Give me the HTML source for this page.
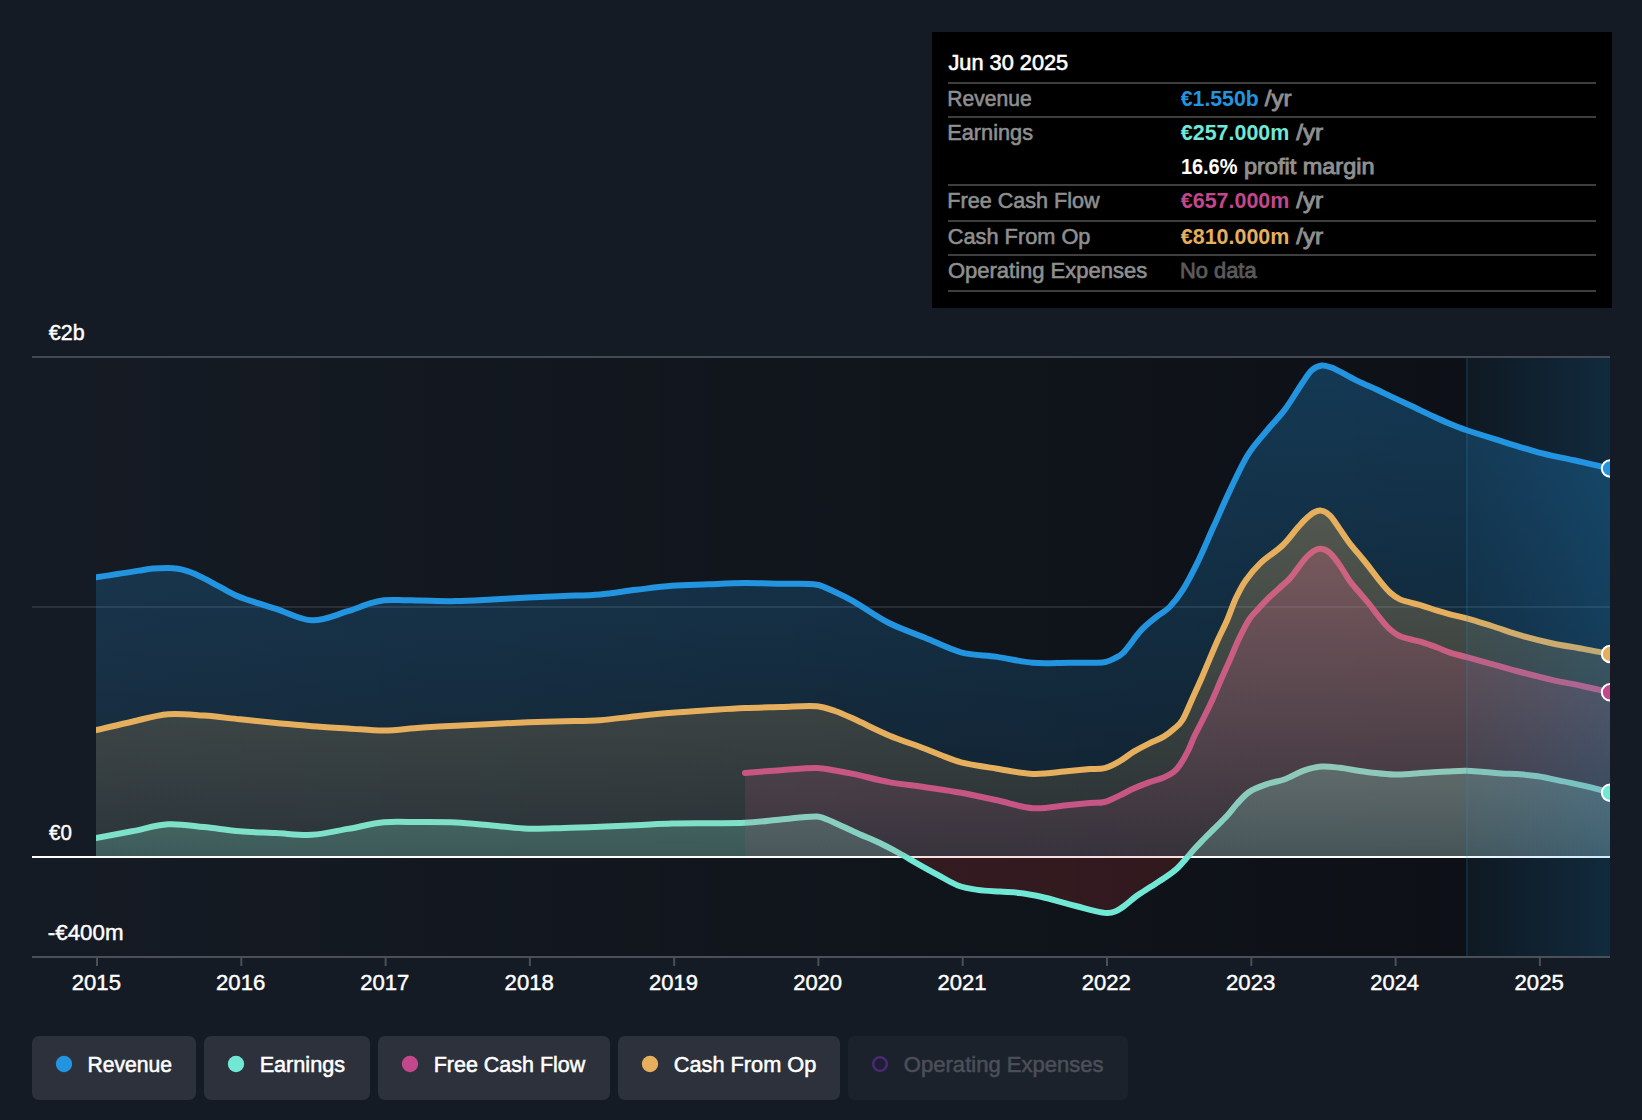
<!DOCTYPE html>
<html lang="en">
<head>
<meta charset="utf-8">
<title>Earnings and Revenue History</title>
<style>
html,body{margin:0;padding:0;background:#151b24;}
body{width:1642px;height:1120px;overflow:hidden;}
svg{display:block;}
text{font-family:"Liberation Sans", Arial, Helvetica, sans-serif;}
</style>
</head>
<body>
<svg width="1642" height="1120" viewBox="0 0 1642 1120">
<defs>
<linearGradient id="gDark" x1="0" y1="0" x2="1" y2="0"><stop offset="0" stop-color="#000" stop-opacity="0"/><stop offset="1" stop-color="#000" stop-opacity="0.42"/></linearGradient>
<linearGradient id="gHi" x1="0" y1="0" x2="1" y2="0"><stop offset="0" stop-color="#2394df" stop-opacity="0.06"/><stop offset="1" stop-color="#2394df" stop-opacity="0.20"/></linearGradient>
<linearGradient id="gRev" x1="0" y1="0" x2="0" y2="1"><stop offset="0" stop-color="#2394df" stop-opacity="0.30"/><stop offset="1" stop-color="#2394df" stop-opacity="0.10"/></linearGradient>
<linearGradient id="gCfo" x1="0" y1="0" x2="0" y2="1"><stop offset="0" stop-color="#e6af5d" stop-opacity="0.30"/><stop offset="1" stop-color="#e6af5d" stop-opacity="0.10"/></linearGradient>
<linearGradient id="gFcf" x1="0" y1="0" x2="0" y2="1"><stop offset="0" stop-color="#c2478b" stop-opacity="0.32"/><stop offset="1" stop-color="#c2478b" stop-opacity="0.10"/></linearGradient>
<linearGradient id="gEar" x1="0" y1="0" x2="0" y2="1"><stop offset="0" stop-color="#71e7d6" stop-opacity="0.32"/><stop offset="1" stop-color="#71e7d6" stop-opacity="0.16"/></linearGradient>
<clipPath id="cPlot"><rect x="96" y="340" width="1514" height="620"/></clipPath>
<clipPath id="cPos"><rect x="32" y="340" width="1578" height="516"/></clipPath>
<clipPath id="cNeg"><rect x="32" y="856" width="1578" height="100"/></clipPath>
</defs>
<rect x="0" y="0" width="1642" height="1120" fill="#151b24"/>
<rect x="32" y="358" width="1578" height="598" fill="url(#gDark)"/>
<rect x="32" y="356" width="1578" height="2" fill="#444a53"/>
<rect x="32" y="606" width="1578" height="2" fill="#ffffff" fill-opacity="0.1"/>
<rect x="32" y="856" width="1578" height="2" fill="#ffffff"/>
<g clip-path="url(#cPlot)" fill="none" stroke-linejoin="round" stroke-linecap="round">
<path d="M96.0 856.0 L96.0 577.4C103.7 576.2 111.3 575.0 119.0 573.8C125.7 572.7 132.3 571.6 139.0 570.6C143.7 569.9 148.3 569.0 153.0 568.6C158.0 568.1 163.0 567.9 168.0 567.9C171.3 567.9 174.7 568.2 178.0 568.7C181.2 569.2 184.3 570.1 187.5 571.1C190.7 572.1 193.8 573.6 197.0 575.0C200.3 576.5 203.7 578.2 207.0 579.9C210.3 581.6 213.7 583.5 217.0 585.3C220.2 587.0 223.3 588.9 226.5 590.6C229.7 592.3 232.8 594.1 236.0 595.5C240.7 597.5 245.3 599.1 250.0 600.7C258.7 603.6 267.3 606.1 276.0 608.8C288.0 612.6 300.0 619.9 312.0 620.3C324.0 620.7 336.0 614.7 348.0 611.2C355.3 609.1 362.7 605.6 370.0 603.4C374.7 602.0 379.3 600.9 384.0 600.3C388.7 599.7 393.3 599.9 398.0 599.9C405.3 600.0 412.7 600.4 420.0 600.6C432.0 600.8 444.0 601.3 456.0 601.1C468.0 600.9 480.0 600.1 492.0 599.5C504.0 598.9 516.0 598.1 528.0 597.5C540.0 596.9 552.0 596.5 564.0 596.0C576.0 595.5 588.0 595.4 600.0 594.4C612.0 593.4 624.0 591.2 636.0 589.8C648.0 588.4 660.0 586.7 672.0 585.8C684.0 584.9 696.0 584.8 708.0 584.3C720.3 583.8 732.7 583.1 745.0 583.0C757.0 582.9 769.0 583.5 781.0 583.8C793.0 584.1 805.0 582.9 817.0 584.7C823.0 585.6 829.0 589.3 835.0 592.0C841.0 594.7 847.0 597.7 853.0 601.1C865.0 608.0 877.0 616.9 889.0 623.0C901.0 629.1 913.0 632.8 925.0 637.7C937.0 642.6 949.0 649.1 961.0 652.3C973.0 655.5 985.0 655.1 997.0 656.9C1009.0 658.6 1021.0 661.8 1033.0 662.8C1045.0 663.8 1057.0 662.8 1069.0 662.8C1078.0 662.8 1087.0 662.9 1096.0 662.7C1099.3 662.6 1102.7 662.6 1106.0 661.8C1108.7 661.2 1111.3 660.0 1114.0 658.6C1117.0 657.0 1120.0 656.1 1123.0 653.0C1129.0 646.7 1135.0 636.9 1141.0 630.4C1146.3 624.7 1151.7 620.8 1157.0 616.4C1161.2 613.0 1165.4 611.3 1169.6 607.0C1174.1 602.4 1178.5 596.7 1183.0 589.6C1187.8 582.0 1192.5 572.7 1197.3 562.9C1202.7 551.9 1208.0 539.0 1213.4 527.1C1218.8 515.2 1224.1 502.7 1229.5 491.4C1235.4 478.9 1241.4 465.4 1247.3 455.7C1253.9 445.0 1260.4 438.5 1267.0 430.4C1273.0 423.0 1279.0 417.5 1285.0 409.4C1291.0 401.3 1297.0 390.7 1303.0 382.0C1306.0 377.6 1309.0 372.8 1312.0 370.1C1315.2 367.3 1318.4 366.0 1321.6 365.5C1324.7 365.1 1327.9 366.4 1331.0 367.4C1334.0 368.4 1337.0 370.1 1340.0 371.6C1346.0 374.6 1352.0 378.2 1358.0 381.1C1364.0 384.1 1370.0 386.5 1376.0 389.3C1382.0 392.1 1388.0 395.1 1394.0 397.9C1400.0 400.7 1406.0 403.5 1412.0 406.3C1418.0 409.1 1424.0 412.1 1430.0 414.9C1436.0 417.7 1442.0 420.6 1448.0 423.1C1454.0 425.6 1460.0 428.0 1466.0 430.0C1478.0 434.0 1490.0 437.6 1502.0 441.3C1514.0 445.0 1526.0 449.1 1538.0 452.3C1550.0 455.5 1562.0 457.6 1574.0 460.3C1586.0 463.0 1598.0 465.8 1610.0 468.5L1610.0 856.0 Z" fill="url(#gRev)"/>
<path d="M96.0 577.4C103.7 576.2 111.3 575.0 119.0 573.8C125.7 572.7 132.3 571.6 139.0 570.6C143.7 569.9 148.3 569.0 153.0 568.6C158.0 568.1 163.0 567.9 168.0 567.9C171.3 567.9 174.7 568.2 178.0 568.7C181.2 569.2 184.3 570.1 187.5 571.1C190.7 572.1 193.8 573.6 197.0 575.0C200.3 576.5 203.7 578.2 207.0 579.9C210.3 581.6 213.7 583.5 217.0 585.3C220.2 587.0 223.3 588.9 226.5 590.6C229.7 592.3 232.8 594.1 236.0 595.5C240.7 597.5 245.3 599.1 250.0 600.7C258.7 603.6 267.3 606.1 276.0 608.8C288.0 612.6 300.0 619.9 312.0 620.3C324.0 620.7 336.0 614.7 348.0 611.2C355.3 609.1 362.7 605.6 370.0 603.4C374.7 602.0 379.3 600.9 384.0 600.3C388.7 599.7 393.3 599.9 398.0 599.9C405.3 600.0 412.7 600.4 420.0 600.6C432.0 600.8 444.0 601.3 456.0 601.1C468.0 600.9 480.0 600.1 492.0 599.5C504.0 598.9 516.0 598.1 528.0 597.5C540.0 596.9 552.0 596.5 564.0 596.0C576.0 595.5 588.0 595.4 600.0 594.4C612.0 593.4 624.0 591.2 636.0 589.8C648.0 588.4 660.0 586.7 672.0 585.8C684.0 584.9 696.0 584.8 708.0 584.3C720.3 583.8 732.7 583.1 745.0 583.0C757.0 582.9 769.0 583.5 781.0 583.8C793.0 584.1 805.0 582.9 817.0 584.7C823.0 585.6 829.0 589.3 835.0 592.0C841.0 594.7 847.0 597.7 853.0 601.1C865.0 608.0 877.0 616.9 889.0 623.0C901.0 629.1 913.0 632.8 925.0 637.7C937.0 642.6 949.0 649.1 961.0 652.3C973.0 655.5 985.0 655.1 997.0 656.9C1009.0 658.6 1021.0 661.8 1033.0 662.8C1045.0 663.8 1057.0 662.8 1069.0 662.8C1078.0 662.8 1087.0 662.9 1096.0 662.7C1099.3 662.6 1102.7 662.6 1106.0 661.8C1108.7 661.2 1111.3 660.0 1114.0 658.6C1117.0 657.0 1120.0 656.1 1123.0 653.0C1129.0 646.7 1135.0 636.9 1141.0 630.4C1146.3 624.7 1151.7 620.8 1157.0 616.4C1161.2 613.0 1165.4 611.3 1169.6 607.0C1174.1 602.4 1178.5 596.7 1183.0 589.6C1187.8 582.0 1192.5 572.7 1197.3 562.9C1202.7 551.9 1208.0 539.0 1213.4 527.1C1218.8 515.2 1224.1 502.7 1229.5 491.4C1235.4 478.9 1241.4 465.4 1247.3 455.7C1253.9 445.0 1260.4 438.5 1267.0 430.4C1273.0 423.0 1279.0 417.5 1285.0 409.4C1291.0 401.3 1297.0 390.7 1303.0 382.0C1306.0 377.6 1309.0 372.8 1312.0 370.1C1315.2 367.3 1318.4 366.0 1321.6 365.5C1324.7 365.1 1327.9 366.4 1331.0 367.4C1334.0 368.4 1337.0 370.1 1340.0 371.6C1346.0 374.6 1352.0 378.2 1358.0 381.1C1364.0 384.1 1370.0 386.5 1376.0 389.3C1382.0 392.1 1388.0 395.1 1394.0 397.9C1400.0 400.7 1406.0 403.5 1412.0 406.3C1418.0 409.1 1424.0 412.1 1430.0 414.9C1436.0 417.7 1442.0 420.6 1448.0 423.1C1454.0 425.6 1460.0 428.0 1466.0 430.0C1478.0 434.0 1490.0 437.6 1502.0 441.3C1514.0 445.0 1526.0 449.1 1538.0 452.3C1550.0 455.5 1562.0 457.6 1574.0 460.3C1586.0 463.0 1598.0 465.8 1610.0 468.5" stroke="#2394df" stroke-width="6"/>
<g clip-path="url(#cPos)"><path d="M96.0 856.0 L96.0 838.0C108.0 835.8 120.0 833.6 132.0 831.3C144.0 829.0 156.0 825.0 168.0 824.3C180.0 823.6 192.0 825.9 204.0 827.1C216.0 828.3 228.0 830.3 240.0 831.3C252.0 832.3 264.0 832.5 276.0 833.1C288.0 833.7 300.0 835.5 312.0 834.8C324.0 834.1 336.0 831.0 348.0 828.9C360.0 826.8 372.0 823.3 384.0 822.2C396.0 821.1 408.0 822.1 420.0 822.1C432.0 822.1 444.0 822.0 456.0 822.5C468.0 823.0 480.0 824.4 492.0 825.4C504.0 826.4 516.0 828.3 528.0 828.7C540.0 829.1 552.0 828.3 564.0 828.0C576.0 827.7 588.0 827.2 600.0 826.7C612.0 826.2 624.0 825.7 636.0 825.2C648.0 824.7 660.0 823.8 672.0 823.5C684.0 823.2 696.0 823.3 708.0 823.2C720.3 823.1 732.7 823.4 745.0 822.8C757.0 822.2 769.0 820.6 781.0 819.5C793.0 818.4 805.0 816.2 817.0 816.4C821.0 816.5 825.0 818.8 829.0 820.3C832.7 821.7 836.3 823.5 840.0 825.2C846.5 828.2 853.1 831.3 859.6 834.2C866.2 837.1 872.7 839.6 879.3 842.7C885.8 845.8 892.4 849.4 898.9 853.0C905.5 856.6 912.0 860.6 918.6 864.3C925.1 868.0 931.7 871.6 938.2 875.1C944.8 878.6 951.3 883.0 957.9 885.5C964.4 888.0 971.0 889.0 977.5 889.9C985.0 891.0 992.5 891.1 1000.0 891.6C1006.3 892.1 1012.7 892.2 1019.0 892.9C1023.9 893.4 1028.9 894.3 1033.8 895.2C1038.7 896.1 1043.6 897.3 1048.5 898.5C1053.4 899.7 1058.2 901.3 1063.1 902.6C1068.0 903.9 1072.8 905.2 1077.7 906.5C1082.6 907.8 1087.4 909.3 1092.3 910.4C1097.2 911.5 1102.0 912.9 1106.9 913.1C1109.8 913.2 1112.8 912.5 1115.7 911.3C1118.6 910.1 1121.6 907.9 1124.5 905.8C1128.4 902.9 1132.3 899.1 1136.2 896.3C1141.1 892.8 1145.9 890.0 1150.8 886.8C1155.7 883.6 1160.5 880.7 1165.4 877.3C1169.3 874.6 1173.2 872.0 1177.1 868.5C1180.0 865.9 1182.9 862.3 1185.8 859.0C1188.7 855.7 1191.7 852.0 1194.6 848.8C1197.5 845.5 1200.5 842.5 1203.4 839.5C1207.2 835.6 1211.0 832.0 1214.8 828.2C1219.0 823.9 1223.3 819.9 1227.5 815.3C1230.8 811.7 1234.0 807.0 1237.3 803.5C1241.2 799.3 1245.1 794.6 1249.0 792.1C1255.0 788.2 1261.0 786.2 1267.0 784.1C1273.0 782.0 1279.0 781.4 1285.0 779.2C1291.0 777.0 1297.0 773.0 1303.0 770.9C1309.2 768.7 1315.4 767.0 1321.6 766.5C1327.7 766.0 1333.9 767.1 1340.0 767.8C1346.0 768.5 1352.0 769.8 1358.0 770.7C1364.0 771.6 1370.0 772.5 1376.0 773.1C1382.0 773.8 1388.0 774.5 1394.0 774.6C1400.0 774.7 1406.0 774.2 1412.0 773.8C1418.0 773.4 1424.0 772.8 1430.0 772.4C1436.0 772.0 1442.0 771.7 1448.0 771.4C1454.0 771.1 1460.0 770.6 1466.0 770.7C1472.0 770.8 1478.0 771.5 1484.0 771.9C1490.0 772.3 1496.0 773.0 1502.0 773.4C1508.0 773.8 1514.0 773.8 1520.0 774.3C1526.0 774.8 1532.0 775.4 1538.0 776.3C1544.0 777.2 1550.0 778.7 1556.0 779.9C1562.0 781.1 1568.0 782.3 1574.0 783.6C1580.0 784.9 1586.0 786.2 1592.0 787.7C1598.0 789.2 1604.0 791.0 1610.0 792.7L1610.0 856.0 Z" fill="url(#gEar)"/></g>
<g clip-path="url(#cNeg)"><path d="M96.0 856.0 L96.0 838.0C108.0 835.8 120.0 833.6 132.0 831.3C144.0 829.0 156.0 825.0 168.0 824.3C180.0 823.6 192.0 825.9 204.0 827.1C216.0 828.3 228.0 830.3 240.0 831.3C252.0 832.3 264.0 832.5 276.0 833.1C288.0 833.7 300.0 835.5 312.0 834.8C324.0 834.1 336.0 831.0 348.0 828.9C360.0 826.8 372.0 823.3 384.0 822.2C396.0 821.1 408.0 822.1 420.0 822.1C432.0 822.1 444.0 822.0 456.0 822.5C468.0 823.0 480.0 824.4 492.0 825.4C504.0 826.4 516.0 828.3 528.0 828.7C540.0 829.1 552.0 828.3 564.0 828.0C576.0 827.7 588.0 827.2 600.0 826.7C612.0 826.2 624.0 825.7 636.0 825.2C648.0 824.7 660.0 823.8 672.0 823.5C684.0 823.2 696.0 823.3 708.0 823.2C720.3 823.1 732.7 823.4 745.0 822.8C757.0 822.2 769.0 820.6 781.0 819.5C793.0 818.4 805.0 816.2 817.0 816.4C821.0 816.5 825.0 818.8 829.0 820.3C832.7 821.7 836.3 823.5 840.0 825.2C846.5 828.2 853.1 831.3 859.6 834.2C866.2 837.1 872.7 839.6 879.3 842.7C885.8 845.8 892.4 849.4 898.9 853.0C905.5 856.6 912.0 860.6 918.6 864.3C925.1 868.0 931.7 871.6 938.2 875.1C944.8 878.6 951.3 883.0 957.9 885.5C964.4 888.0 971.0 889.0 977.5 889.9C985.0 891.0 992.5 891.1 1000.0 891.6C1006.3 892.1 1012.7 892.2 1019.0 892.9C1023.9 893.4 1028.9 894.3 1033.8 895.2C1038.7 896.1 1043.6 897.3 1048.5 898.5C1053.4 899.7 1058.2 901.3 1063.1 902.6C1068.0 903.9 1072.8 905.2 1077.7 906.5C1082.6 907.8 1087.4 909.3 1092.3 910.4C1097.2 911.5 1102.0 912.9 1106.9 913.1C1109.8 913.2 1112.8 912.5 1115.7 911.3C1118.6 910.1 1121.6 907.9 1124.5 905.8C1128.4 902.9 1132.3 899.1 1136.2 896.3C1141.1 892.8 1145.9 890.0 1150.8 886.8C1155.7 883.6 1160.5 880.7 1165.4 877.3C1169.3 874.6 1173.2 872.0 1177.1 868.5C1180.0 865.9 1182.9 862.3 1185.8 859.0C1188.7 855.7 1191.7 852.0 1194.6 848.8C1197.5 845.5 1200.5 842.5 1203.4 839.5C1207.2 835.6 1211.0 832.0 1214.8 828.2C1219.0 823.9 1223.3 819.9 1227.5 815.3C1230.8 811.7 1234.0 807.0 1237.3 803.5C1241.2 799.3 1245.1 794.6 1249.0 792.1C1255.0 788.2 1261.0 786.2 1267.0 784.1C1273.0 782.0 1279.0 781.4 1285.0 779.2C1291.0 777.0 1297.0 773.0 1303.0 770.9C1309.2 768.7 1315.4 767.0 1321.6 766.5C1327.7 766.0 1333.9 767.1 1340.0 767.8C1346.0 768.5 1352.0 769.8 1358.0 770.7C1364.0 771.6 1370.0 772.5 1376.0 773.1C1382.0 773.8 1388.0 774.5 1394.0 774.6C1400.0 774.7 1406.0 774.2 1412.0 773.8C1418.0 773.4 1424.0 772.8 1430.0 772.4C1436.0 772.0 1442.0 771.7 1448.0 771.4C1454.0 771.1 1460.0 770.6 1466.0 770.7C1472.0 770.8 1478.0 771.5 1484.0 771.9C1490.0 772.3 1496.0 773.0 1502.0 773.4C1508.0 773.8 1514.0 773.8 1520.0 774.3C1526.0 774.8 1532.0 775.4 1538.0 776.3C1544.0 777.2 1550.0 778.7 1556.0 779.9C1562.0 781.1 1568.0 782.3 1574.0 783.6C1580.0 784.9 1586.0 786.2 1592.0 787.7C1598.0 789.2 1604.0 791.0 1610.0 792.7L1610.0 856.0 Z" fill="#e63c3c" fill-opacity="0.165"/></g>
<path d="M96.0 838.0C108.0 835.8 120.0 833.6 132.0 831.3C144.0 829.0 156.0 825.0 168.0 824.3C180.0 823.6 192.0 825.9 204.0 827.1C216.0 828.3 228.0 830.3 240.0 831.3C252.0 832.3 264.0 832.5 276.0 833.1C288.0 833.7 300.0 835.5 312.0 834.8C324.0 834.1 336.0 831.0 348.0 828.9C360.0 826.8 372.0 823.3 384.0 822.2C396.0 821.1 408.0 822.1 420.0 822.1C432.0 822.1 444.0 822.0 456.0 822.5C468.0 823.0 480.0 824.4 492.0 825.4C504.0 826.4 516.0 828.3 528.0 828.7C540.0 829.1 552.0 828.3 564.0 828.0C576.0 827.7 588.0 827.2 600.0 826.7C612.0 826.2 624.0 825.7 636.0 825.2C648.0 824.7 660.0 823.8 672.0 823.5C684.0 823.2 696.0 823.3 708.0 823.2C720.3 823.1 732.7 823.4 745.0 822.8C757.0 822.2 769.0 820.6 781.0 819.5C793.0 818.4 805.0 816.2 817.0 816.4C821.0 816.5 825.0 818.8 829.0 820.3C832.7 821.7 836.3 823.5 840.0 825.2C846.5 828.2 853.1 831.3 859.6 834.2C866.2 837.1 872.7 839.6 879.3 842.7C885.8 845.8 892.4 849.4 898.9 853.0C905.5 856.6 912.0 860.6 918.6 864.3C925.1 868.0 931.7 871.6 938.2 875.1C944.8 878.6 951.3 883.0 957.9 885.5C964.4 888.0 971.0 889.0 977.5 889.9C985.0 891.0 992.5 891.1 1000.0 891.6C1006.3 892.1 1012.7 892.2 1019.0 892.9C1023.9 893.4 1028.9 894.3 1033.8 895.2C1038.7 896.1 1043.6 897.3 1048.5 898.5C1053.4 899.7 1058.2 901.3 1063.1 902.6C1068.0 903.9 1072.8 905.2 1077.7 906.5C1082.6 907.8 1087.4 909.3 1092.3 910.4C1097.2 911.5 1102.0 912.9 1106.9 913.1C1109.8 913.2 1112.8 912.5 1115.7 911.3C1118.6 910.1 1121.6 907.9 1124.5 905.8C1128.4 902.9 1132.3 899.1 1136.2 896.3C1141.1 892.8 1145.9 890.0 1150.8 886.8C1155.7 883.6 1160.5 880.7 1165.4 877.3C1169.3 874.6 1173.2 872.0 1177.1 868.5C1180.0 865.9 1182.9 862.3 1185.8 859.0C1188.7 855.7 1191.7 852.0 1194.6 848.8C1197.5 845.5 1200.5 842.5 1203.4 839.5C1207.2 835.6 1211.0 832.0 1214.8 828.2C1219.0 823.9 1223.3 819.9 1227.5 815.3C1230.8 811.7 1234.0 807.0 1237.3 803.5C1241.2 799.3 1245.1 794.6 1249.0 792.1C1255.0 788.2 1261.0 786.2 1267.0 784.1C1273.0 782.0 1279.0 781.4 1285.0 779.2C1291.0 777.0 1297.0 773.0 1303.0 770.9C1309.2 768.7 1315.4 767.0 1321.6 766.5C1327.7 766.0 1333.9 767.1 1340.0 767.8C1346.0 768.5 1352.0 769.8 1358.0 770.7C1364.0 771.6 1370.0 772.5 1376.0 773.1C1382.0 773.8 1388.0 774.5 1394.0 774.6C1400.0 774.7 1406.0 774.2 1412.0 773.8C1418.0 773.4 1424.0 772.8 1430.0 772.4C1436.0 772.0 1442.0 771.7 1448.0 771.4C1454.0 771.1 1460.0 770.6 1466.0 770.7C1472.0 770.8 1478.0 771.5 1484.0 771.9C1490.0 772.3 1496.0 773.0 1502.0 773.4C1508.0 773.8 1514.0 773.8 1520.0 774.3C1526.0 774.8 1532.0 775.4 1538.0 776.3C1544.0 777.2 1550.0 778.7 1556.0 779.9C1562.0 781.1 1568.0 782.3 1574.0 783.6C1580.0 784.9 1586.0 786.2 1592.0 787.7C1598.0 789.2 1604.0 791.0 1610.0 792.7" stroke="#71e7d6" stroke-width="6"/>
<path d="M745.0 856.0 L745.0 772.9C757.0 772.0 769.0 771.0 781.0 770.2C793.0 769.4 805.0 767.9 817.0 768.0C823.0 768.0 829.0 769.5 835.0 770.5C841.0 771.5 847.0 772.6 853.0 773.9C865.0 776.5 877.0 779.9 889.0 782.1C901.0 784.3 913.0 785.4 925.0 787.2C937.0 789.0 949.0 790.6 961.0 792.8C973.0 795.0 985.0 797.7 997.0 800.3C1009.0 802.9 1021.0 807.4 1033.0 808.2C1045.0 809.0 1057.0 806.0 1069.0 804.9C1076.0 804.3 1083.0 803.6 1090.0 803.0C1094.9 802.6 1099.8 803.2 1104.7 802.0C1109.6 800.8 1114.6 797.9 1119.5 795.6C1124.4 793.3 1129.3 790.5 1134.2 788.3C1139.1 786.1 1144.0 784.2 1148.9 782.4C1153.8 780.6 1158.8 779.6 1163.7 777.5C1167.0 776.1 1170.2 774.7 1173.5 772.1C1175.8 770.3 1178.1 767.6 1180.4 764.2C1183.0 760.4 1185.6 755.7 1188.2 750.5C1190.2 746.6 1192.1 740.9 1194.1 736.7C1196.9 730.7 1199.8 725.7 1202.6 720.0C1206.1 713.0 1209.5 706.0 1213.0 698.4C1215.8 692.3 1218.6 685.2 1221.4 678.8C1224.3 672.1 1227.3 665.8 1230.2 659.1C1233.0 652.7 1235.8 645.4 1238.6 639.5C1242.0 632.3 1245.5 625.2 1248.9 619.8C1251.7 615.4 1254.4 613.1 1257.2 610.0C1260.8 606.0 1264.3 602.1 1267.9 598.6C1271.9 594.6 1276.0 591.2 1280.0 587.5C1283.3 584.4 1286.7 582.1 1290.0 578.3C1294.9 572.7 1299.8 564.8 1304.7 559.1C1307.7 555.7 1310.6 552.9 1313.6 551.0C1316.1 549.4 1318.7 548.4 1321.2 548.8C1324.2 549.1 1327.1 550.5 1330.0 553.1C1333.3 556.1 1336.7 560.9 1340.0 565.6C1343.3 570.3 1346.7 576.7 1350.0 581.2C1353.3 585.8 1356.7 589.1 1360.0 593.1C1363.3 597.1 1366.7 600.8 1370.0 605.0C1373.3 609.2 1376.7 614.0 1380.0 618.1C1383.3 622.2 1386.7 626.4 1390.0 629.4C1393.3 632.4 1396.7 634.6 1400.0 636.2C1403.0 637.8 1406.0 638.2 1409.0 639.0C1413.5 640.2 1418.1 640.9 1422.6 642.3C1427.5 643.8 1432.4 645.7 1437.3 647.5C1441.5 649.1 1445.8 651.2 1450.0 652.6C1455.6 654.4 1461.1 655.7 1466.7 657.2C1475.1 659.5 1483.4 661.8 1491.8 664.1C1502.0 666.9 1512.1 669.8 1522.3 672.5C1532.4 675.2 1542.6 677.8 1552.7 680.1C1562.9 682.4 1573.0 684.0 1583.2 686.2C1592.1 688.1 1601.1 690.3 1610.0 692.3L1610.0 856.0 Z" fill="url(#gFcf)"/>
<path d="M745.0 772.9C757.0 772.0 769.0 771.0 781.0 770.2C793.0 769.4 805.0 767.9 817.0 768.0C823.0 768.0 829.0 769.5 835.0 770.5C841.0 771.5 847.0 772.6 853.0 773.9C865.0 776.5 877.0 779.9 889.0 782.1C901.0 784.3 913.0 785.4 925.0 787.2C937.0 789.0 949.0 790.6 961.0 792.8C973.0 795.0 985.0 797.7 997.0 800.3C1009.0 802.9 1021.0 807.4 1033.0 808.2C1045.0 809.0 1057.0 806.0 1069.0 804.9C1076.0 804.3 1083.0 803.6 1090.0 803.0C1094.9 802.6 1099.8 803.2 1104.7 802.0C1109.6 800.8 1114.6 797.9 1119.5 795.6C1124.4 793.3 1129.3 790.5 1134.2 788.3C1139.1 786.1 1144.0 784.2 1148.9 782.4C1153.8 780.6 1158.8 779.6 1163.7 777.5C1167.0 776.1 1170.2 774.7 1173.5 772.1C1175.8 770.3 1178.1 767.6 1180.4 764.2C1183.0 760.4 1185.6 755.7 1188.2 750.5C1190.2 746.6 1192.1 740.9 1194.1 736.7C1196.9 730.7 1199.8 725.7 1202.6 720.0C1206.1 713.0 1209.5 706.0 1213.0 698.4C1215.8 692.3 1218.6 685.2 1221.4 678.8C1224.3 672.1 1227.3 665.8 1230.2 659.1C1233.0 652.7 1235.8 645.4 1238.6 639.5C1242.0 632.3 1245.5 625.2 1248.9 619.8C1251.7 615.4 1254.4 613.1 1257.2 610.0C1260.8 606.0 1264.3 602.1 1267.9 598.6C1271.9 594.6 1276.0 591.2 1280.0 587.5C1283.3 584.4 1286.7 582.1 1290.0 578.3C1294.9 572.7 1299.8 564.8 1304.7 559.1C1307.7 555.7 1310.6 552.9 1313.6 551.0C1316.1 549.4 1318.7 548.4 1321.2 548.8C1324.2 549.1 1327.1 550.5 1330.0 553.1C1333.3 556.1 1336.7 560.9 1340.0 565.6C1343.3 570.3 1346.7 576.7 1350.0 581.2C1353.3 585.8 1356.7 589.1 1360.0 593.1C1363.3 597.1 1366.7 600.8 1370.0 605.0C1373.3 609.2 1376.7 614.0 1380.0 618.1C1383.3 622.2 1386.7 626.4 1390.0 629.4C1393.3 632.4 1396.7 634.6 1400.0 636.2C1403.0 637.8 1406.0 638.2 1409.0 639.0C1413.5 640.2 1418.1 640.9 1422.6 642.3C1427.5 643.8 1432.4 645.7 1437.3 647.5C1441.5 649.1 1445.8 651.2 1450.0 652.6C1455.6 654.4 1461.1 655.7 1466.7 657.2C1475.1 659.5 1483.4 661.8 1491.8 664.1C1502.0 666.9 1512.1 669.8 1522.3 672.5C1532.4 675.2 1542.6 677.8 1552.7 680.1C1562.9 682.4 1573.0 684.0 1583.2 686.2C1592.1 688.1 1601.1 690.3 1610.0 692.3" stroke="#c2478b" stroke-width="6"/>
<path d="M96.0 856.0 L96.0 730.2C108.0 727.4 120.0 724.4 132.0 721.7C144.0 719.0 156.0 715.2 168.0 714.2C180.0 713.2 192.0 714.8 204.0 715.6C216.0 716.5 228.0 718.1 240.0 719.3C252.0 720.5 264.0 721.8 276.0 722.9C288.0 724.0 300.0 725.3 312.0 726.2C324.0 727.1 336.0 727.7 348.0 728.4C360.0 729.1 372.0 730.7 384.0 730.6C396.0 730.5 408.0 728.5 420.0 727.7C432.0 726.9 444.0 726.3 456.0 725.7C468.0 725.1 480.0 724.5 492.0 723.9C504.0 723.3 516.0 722.7 528.0 722.2C540.0 721.8 552.0 721.5 564.0 721.2C576.0 720.9 588.0 721.0 600.0 720.2C612.0 719.4 624.0 717.4 636.0 716.2C648.0 715.0 660.0 713.8 672.0 712.8C684.0 711.8 696.0 711.0 708.0 710.2C720.3 709.4 732.7 708.5 745.0 708.0C757.0 707.5 769.0 707.4 781.0 707.1C793.0 706.8 805.0 705.3 817.0 706.2C823.0 706.6 829.0 708.9 835.0 711.0C841.0 713.1 847.0 715.9 853.0 718.6C865.0 724.0 877.0 730.4 889.0 735.4C901.0 740.4 913.0 744.2 925.0 748.8C930.0 750.7 935.0 752.9 940.0 754.8C947.0 757.4 954.0 760.6 961.0 762.3C973.0 765.2 985.0 766.8 997.0 768.7C1009.0 770.6 1021.0 773.5 1033.0 773.9C1045.0 774.3 1057.0 772.1 1069.0 771.1C1076.0 770.5 1083.0 769.7 1090.0 769.1C1094.9 768.7 1099.8 769.4 1104.7 768.1C1109.6 766.8 1114.6 764.1 1119.5 761.3C1124.4 758.5 1129.3 754.3 1134.2 751.4C1139.1 748.5 1144.0 746.0 1148.9 743.6C1153.8 741.1 1158.8 739.6 1163.7 736.7C1167.0 734.8 1170.2 732.2 1173.5 729.3C1176.5 726.6 1179.5 724.9 1182.5 720.0C1185.8 714.6 1189.1 705.6 1192.4 698.4C1195.4 691.9 1198.3 685.6 1201.3 678.8C1204.1 672.5 1206.8 665.6 1209.6 659.1C1212.4 652.5 1215.2 645.7 1218.0 639.5C1221.1 632.6 1224.2 627.0 1227.3 619.8C1230.1 613.3 1232.9 604.6 1235.7 598.6C1239.0 591.6 1242.2 585.4 1245.5 580.7C1250.6 573.5 1255.6 567.7 1260.7 562.9C1268.1 555.8 1275.6 552.1 1283.0 545.0C1288.1 540.2 1293.1 532.9 1298.2 527.1C1300.4 524.6 1302.5 522.0 1304.7 520.0C1307.7 517.2 1310.6 514.4 1313.6 512.7C1316.1 511.3 1318.7 510.1 1321.2 510.6C1324.2 511.1 1327.1 512.7 1330.0 515.6C1333.3 518.9 1336.7 524.7 1340.0 529.4C1343.3 534.1 1346.7 539.4 1350.0 543.8C1353.3 548.1 1356.7 551.5 1360.0 555.6C1363.3 559.7 1366.7 563.8 1370.0 568.1C1373.3 572.4 1376.7 577.2 1380.0 581.2C1383.3 585.3 1386.7 589.5 1390.0 592.5C1393.3 595.5 1396.7 597.7 1400.0 599.4C1403.0 600.9 1406.0 601.4 1409.0 602.2C1413.5 603.5 1418.1 604.4 1422.6 605.8C1427.5 607.3 1432.4 609.2 1437.3 610.7C1441.5 612.0 1445.8 613.2 1450.0 614.3C1455.6 615.8 1461.1 616.8 1466.7 618.4C1475.1 620.7 1483.4 623.4 1491.8 626.0C1502.0 629.2 1512.1 633.0 1522.3 635.9C1532.4 638.8 1542.6 641.3 1552.7 643.5C1562.9 645.7 1573.0 647.0 1583.2 648.9C1592.1 650.5 1601.1 652.3 1610.0 654.0L1610.0 856.0 Z" fill="url(#gCfo)"/>
<path d="M96.0 730.2C108.0 727.4 120.0 724.4 132.0 721.7C144.0 719.0 156.0 715.2 168.0 714.2C180.0 713.2 192.0 714.8 204.0 715.6C216.0 716.5 228.0 718.1 240.0 719.3C252.0 720.5 264.0 721.8 276.0 722.9C288.0 724.0 300.0 725.3 312.0 726.2C324.0 727.1 336.0 727.7 348.0 728.4C360.0 729.1 372.0 730.7 384.0 730.6C396.0 730.5 408.0 728.5 420.0 727.7C432.0 726.9 444.0 726.3 456.0 725.7C468.0 725.1 480.0 724.5 492.0 723.9C504.0 723.3 516.0 722.7 528.0 722.2C540.0 721.8 552.0 721.5 564.0 721.2C576.0 720.9 588.0 721.0 600.0 720.2C612.0 719.4 624.0 717.4 636.0 716.2C648.0 715.0 660.0 713.8 672.0 712.8C684.0 711.8 696.0 711.0 708.0 710.2C720.3 709.4 732.7 708.5 745.0 708.0C757.0 707.5 769.0 707.4 781.0 707.1C793.0 706.8 805.0 705.3 817.0 706.2C823.0 706.6 829.0 708.9 835.0 711.0C841.0 713.1 847.0 715.9 853.0 718.6C865.0 724.0 877.0 730.4 889.0 735.4C901.0 740.4 913.0 744.2 925.0 748.8C930.0 750.7 935.0 752.9 940.0 754.8C947.0 757.4 954.0 760.6 961.0 762.3C973.0 765.2 985.0 766.8 997.0 768.7C1009.0 770.6 1021.0 773.5 1033.0 773.9C1045.0 774.3 1057.0 772.1 1069.0 771.1C1076.0 770.5 1083.0 769.7 1090.0 769.1C1094.9 768.7 1099.8 769.4 1104.7 768.1C1109.6 766.8 1114.6 764.1 1119.5 761.3C1124.4 758.5 1129.3 754.3 1134.2 751.4C1139.1 748.5 1144.0 746.0 1148.9 743.6C1153.8 741.1 1158.8 739.6 1163.7 736.7C1167.0 734.8 1170.2 732.2 1173.5 729.3C1176.5 726.6 1179.5 724.9 1182.5 720.0C1185.8 714.6 1189.1 705.6 1192.4 698.4C1195.4 691.9 1198.3 685.6 1201.3 678.8C1204.1 672.5 1206.8 665.6 1209.6 659.1C1212.4 652.5 1215.2 645.7 1218.0 639.5C1221.1 632.6 1224.2 627.0 1227.3 619.8C1230.1 613.3 1232.9 604.6 1235.7 598.6C1239.0 591.6 1242.2 585.4 1245.5 580.7C1250.6 573.5 1255.6 567.7 1260.7 562.9C1268.1 555.8 1275.6 552.1 1283.0 545.0C1288.1 540.2 1293.1 532.9 1298.2 527.1C1300.4 524.6 1302.5 522.0 1304.7 520.0C1307.7 517.2 1310.6 514.4 1313.6 512.7C1316.1 511.3 1318.7 510.1 1321.2 510.6C1324.2 511.1 1327.1 512.7 1330.0 515.6C1333.3 518.9 1336.7 524.7 1340.0 529.4C1343.3 534.1 1346.7 539.4 1350.0 543.8C1353.3 548.1 1356.7 551.5 1360.0 555.6C1363.3 559.7 1366.7 563.8 1370.0 568.1C1373.3 572.4 1376.7 577.2 1380.0 581.2C1383.3 585.3 1386.7 589.5 1390.0 592.5C1393.3 595.5 1396.7 597.7 1400.0 599.4C1403.0 600.9 1406.0 601.4 1409.0 602.2C1413.5 603.5 1418.1 604.4 1422.6 605.8C1427.5 607.3 1432.4 609.2 1437.3 610.7C1441.5 612.0 1445.8 613.2 1450.0 614.3C1455.6 615.8 1461.1 616.8 1466.7 618.4C1475.1 620.7 1483.4 623.4 1491.8 626.0C1502.0 629.2 1512.1 633.0 1522.3 635.9C1532.4 638.8 1542.6 641.3 1552.7 643.5C1562.9 645.7 1573.0 647.0 1583.2 648.9C1592.1 650.5 1601.1 652.3 1610.0 654.0" stroke="#e6af5d" stroke-width="6"/>
<rect x="1466" y="358" width="144" height="598" fill="url(#gHi)"/>
<rect x="1466" y="358" width="2" height="598" fill="#2394df" fill-opacity="0.15"/>
<circle cx="1610" cy="468.5" r="8.2" fill="#2394df" stroke="#ffffff" stroke-width="2"/>
<circle cx="1610" cy="654.0" r="8.2" fill="#e6af5d" stroke="#ffffff" stroke-width="2"/>
<circle cx="1610" cy="692.3" r="8.2" fill="#c2478b" stroke="#ffffff" stroke-width="2"/>
<circle cx="1610" cy="792.7" r="8.2" fill="#71e7d6" stroke="#ffffff" stroke-width="2"/>
</g>
<rect x="32" y="956" width="1578" height="2" fill="#4a4f58"/>
<rect x="96.0" y="958" width="2" height="8" fill="#4a4f58"/>
<rect x="240.3" y="958" width="2" height="8" fill="#4a4f58"/>
<rect x="384.6" y="958" width="2" height="8" fill="#4a4f58"/>
<rect x="528.9" y="958" width="2" height="8" fill="#4a4f58"/>
<rect x="673.2" y="958" width="2" height="8" fill="#4a4f58"/>
<rect x="817.4" y="958" width="2" height="8" fill="#4a4f58"/>
<rect x="961.7" y="958" width="2" height="8" fill="#4a4f58"/>
<rect x="1106.0" y="958" width="2" height="8" fill="#4a4f58"/>
<rect x="1250.3" y="958" width="2" height="8" fill="#4a4f58"/>
<rect x="1394.6" y="958" width="2" height="8" fill="#4a4f58"/>
<rect x="1538.9" y="958" width="2" height="8" fill="#4a4f58"/>
<text x="48.85" y="339.80" font-size="22" fill="#fff" textLength="35.84" lengthAdjust="spacingAndGlyphs" stroke="#fff" stroke-width="0.45">€2b</text>
<text x="49.05" y="839.50" font-size="22" fill="#fff" textLength="22.80" lengthAdjust="spacingAndGlyphs" stroke="#fff" stroke-width="0.45">€0</text>
<text x="47.89" y="939.50" font-size="22" fill="#fff" textLength="75.63" lengthAdjust="spacingAndGlyphs" stroke="#fff" stroke-width="0.45">-€400m</text>
<text x="71.76" y="990.00" font-size="22" fill="#fff" textLength="49.18" lengthAdjust="spacingAndGlyphs" stroke="#fff" stroke-width="0.45">2015</text>
<text x="216.04" y="990.00" font-size="22" fill="#fff" textLength="49.29" lengthAdjust="spacingAndGlyphs" stroke="#fff" stroke-width="0.45">2016</text>
<text x="360.32" y="990.00" font-size="22" fill="#fff" textLength="49.08" lengthAdjust="spacingAndGlyphs" stroke="#fff" stroke-width="0.45">2017</text>
<text x="504.60" y="990.00" font-size="22" fill="#fff" textLength="49.23" lengthAdjust="spacingAndGlyphs" stroke="#fff" stroke-width="0.45">2018</text>
<text x="648.89" y="990.00" font-size="22" fill="#fff" textLength="49.02" lengthAdjust="spacingAndGlyphs" stroke="#fff" stroke-width="0.45">2019</text>
<text x="793.17" y="990.00" font-size="22" fill="#fff" textLength="48.92" lengthAdjust="spacingAndGlyphs" stroke="#fff" stroke-width="0.45">2020</text>
<text x="937.45" y="990.00" font-size="22" fill="#fff" textLength="49.01" lengthAdjust="spacingAndGlyphs" stroke="#fff" stroke-width="0.45">2021</text>
<text x="1081.72" y="990.00" font-size="22" fill="#fff" textLength="49.08" lengthAdjust="spacingAndGlyphs" stroke="#fff" stroke-width="0.45">2022</text>
<text x="1226.00" y="990.00" font-size="22" fill="#fff" textLength="49.30" lengthAdjust="spacingAndGlyphs" stroke="#fff" stroke-width="0.45">2023</text>
<text x="1370.29" y="990.00" font-size="22" fill="#fff" textLength="48.77" lengthAdjust="spacingAndGlyphs" stroke="#fff" stroke-width="0.45">2024</text>
<text x="1514.56" y="990.00" font-size="22" fill="#fff" textLength="49.18" lengthAdjust="spacingAndGlyphs" stroke="#fff" stroke-width="0.45">2025</text>
<rect x="932" y="32" width="680" height="276" fill="#000000"/>
<rect x="948" y="82" width="648" height="2" fill="#3f3f3f"/>
<rect x="948" y="116" width="648" height="2" fill="#3f3f3f"/>
<rect x="948" y="184" width="648" height="2" fill="#3f3f3f"/>
<rect x="948" y="220" width="648" height="2" fill="#3f3f3f"/>
<rect x="948" y="254" width="648" height="2" fill="#3f3f3f"/>
<rect x="948" y="290" width="648" height="2" fill="#3f3f3f"/>
<text x="948.50" y="70.00" font-size="22" fill="#fff" textLength="119.72" lengthAdjust="spacingAndGlyphs" stroke="#fff" stroke-width="0.60">Jun 30 2025</text>
<text x="947.34" y="106.00" font-size="22" fill="#8f8f8f" textLength="84.29" lengthAdjust="spacingAndGlyphs" stroke="#8f8f8f" stroke-width="0.60">Revenue</text>
<text x="1180.80" y="106.00" font-size="22" fill="#2394df" font-weight="bold" textLength="77.88" lengthAdjust="spacingAndGlyphs">€1.550b</text>
<text x="1264.89" y="106.00" font-size="22" fill="#8f8f8f" textLength="26.64" lengthAdjust="spacingAndGlyphs" stroke="#8f8f8f" stroke-width="0.90">/yr</text>
<text x="947.28" y="140.00" font-size="22" fill="#8f8f8f" textLength="85.77" lengthAdjust="spacingAndGlyphs" stroke="#8f8f8f" stroke-width="0.60">Earnings</text>
<text x="1180.80" y="140.00" font-size="22" fill="#71e7d6" font-weight="bold" textLength="108.56" lengthAdjust="spacingAndGlyphs">€257.000m</text>
<text x="1296.29" y="140.00" font-size="22" fill="#8f8f8f" textLength="26.91" lengthAdjust="spacingAndGlyphs" stroke="#8f8f8f" stroke-width="0.90">/yr</text>
<text x="947.30" y="208.00" font-size="22" fill="#8f8f8f" textLength="152.24" lengthAdjust="spacingAndGlyphs" stroke="#8f8f8f" stroke-width="0.60">Free Cash Flow</text>
<text x="1180.80" y="208.00" font-size="22" fill="#c2478b" font-weight="bold" textLength="108.56" lengthAdjust="spacingAndGlyphs">€657.000m</text>
<text x="1296.29" y="208.00" font-size="22" fill="#8f8f8f" textLength="26.91" lengthAdjust="spacingAndGlyphs" stroke="#8f8f8f" stroke-width="0.90">/yr</text>
<text x="947.82" y="244.00" font-size="22" fill="#8f8f8f" textLength="142.60" lengthAdjust="spacingAndGlyphs" stroke="#8f8f8f" stroke-width="0.60">Cash From Op</text>
<text x="1180.80" y="244.00" font-size="22" fill="#e6af5d" font-weight="bold" textLength="108.56" lengthAdjust="spacingAndGlyphs">€810.000m</text>
<text x="1296.29" y="244.00" font-size="22" fill="#8f8f8f" textLength="26.91" lengthAdjust="spacingAndGlyphs" stroke="#8f8f8f" stroke-width="0.90">/yr</text>
<text x="1180.88" y="174.00" font-size="22" fill="#ffffff" font-weight="bold" textLength="56.55" lengthAdjust="spacingAndGlyphs">16.6%</text>
<text x="1243.97" y="174.00" font-size="22" fill="#8f8f8f" textLength="130.53" lengthAdjust="spacingAndGlyphs" stroke="#8f8f8f" stroke-width="0.90">profit margin</text>
<text x="947.89" y="278.00" font-size="22" fill="#8f8f8f" textLength="199.33" lengthAdjust="spacingAndGlyphs" stroke="#8f8f8f" stroke-width="0.60">Operating Expenses</text>
<text x="1179.94" y="278.00" font-size="22" fill="#5a5a5a" textLength="76.64" lengthAdjust="spacingAndGlyphs" stroke="#5a5a5a" stroke-width="0.80">No data</text>
<rect x="32" y="1036" width="164" height="64" rx="7" ry="7" fill="#2c313b"/>
<circle cx="64" cy="1064" r="8.2" fill="#2394df"/>
<rect x="204" y="1036" width="166" height="64" rx="7" ry="7" fill="#2c313b"/>
<circle cx="236" cy="1064" r="8.2" fill="#71e7d6"/>
<rect x="378" y="1036" width="232" height="64" rx="7" ry="7" fill="#2c313b"/>
<circle cx="410" cy="1064" r="8.2" fill="#c2478b"/>
<rect x="618" y="1036" width="222" height="64" rx="7" ry="7" fill="#2c313b"/>
<circle cx="650" cy="1064" r="8.2" fill="#e6af5d"/>
<rect x="848" y="1036" width="280" height="64" rx="7" ry="7" fill="#1c222b"/>
<circle cx="880" cy="1064" r="6.8" fill="#221c36" stroke="#452b70" stroke-width="2.6"/>
<text x="87.52" y="1072.00" font-size="22" fill="#fff" textLength="84.46" lengthAdjust="spacingAndGlyphs" stroke="#fff" stroke-width="0.55">Revenue</text>
<text x="259.67" y="1072.00" font-size="22" fill="#fff" textLength="85.41" lengthAdjust="spacingAndGlyphs" stroke="#fff" stroke-width="0.55">Earnings</text>
<text x="433.69" y="1072.00" font-size="22" fill="#fff" textLength="151.56" lengthAdjust="spacingAndGlyphs" stroke="#fff" stroke-width="0.55">Free Cash Flow</text>
<text x="673.78" y="1072.00" font-size="22" fill="#fff" textLength="142.60" lengthAdjust="spacingAndGlyphs" stroke="#fff" stroke-width="0.55">Cash From Op</text>
<text x="903.87" y="1072.00" font-size="22" fill="#4b4f59" textLength="199.74" lengthAdjust="spacingAndGlyphs" stroke="#4b4f59" stroke-width="0.55">Operating Expenses</text>
</svg>
</body>
</html>
